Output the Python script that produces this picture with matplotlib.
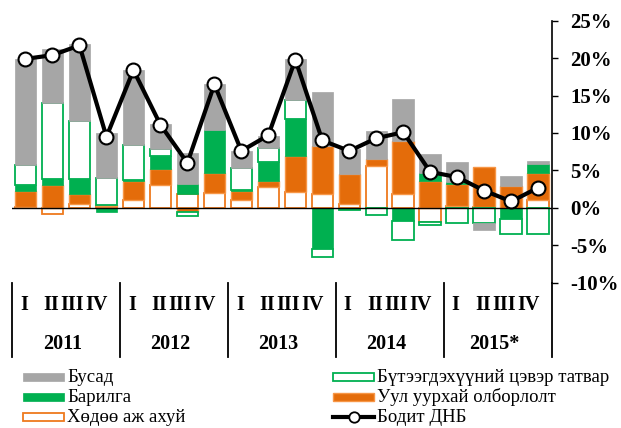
import matplotlib
matplotlib.use("Agg")
import matplotlib.pyplot as plt
from matplotlib.patches import Rectangle
from matplotlib.lines import Line2D
import matplotlib.transforms as mtransforms
import numpy as np

plt.rcParams['font.family'] = ['Liberation Serif', 'DejaVu Serif']

# ---------------- data ----------------
years = ["2011", "2012", "2013", "2014", "2015*"]
quarters = ["I", "II", "III", "IV"]

agri = [0.1, -0.8, 0.45, 0.2, 1.1, 3.0, 1.9, 2.0, 1.1, 2.8,
        2.1, 1.9, 0.55, 5.6, 1.9, -1.9, 0.3, 0.1, 0.0, 1.0]
mining = [2.1, 3.0, 1.45, 0.2, 2.45, 2.25, -0.5, 2.6, 1.15, 0.8,
          4.8, 6.3, 4.0, 0.95, 7.0, 3.6, 2.9, 5.3, 2.9, 3.7]
construction = [0.8, 0.8, 1.9, -0.6, 0.2, 1.65, 1.35, 5.85, 0.15, 2.55,
                4.95, -5.5, -0.1, 0.0, -1.7, 1.0, 0.2, 0.0, -1.45, 1.15]
taxes = [2.7, 10.2, 7.8, 3.6, 4.6, 0.9, -0.6, 0.0, 2.95, 1.9,
         2.5, -1.0, -0.2, -1.0, -2.6, -0.45, -2.0, -2.0, -2.0, -3.5]
other = [14.2, 7.2, 10.3, 6.05, 10.1, 3.4, 4.05, 6.1, 2.25, 1.6,
         5.5, 7.3, 3.3, 3.7, 5.6, 2.6, 2.7, -1.0, 1.35, 0.4]
gdp = [19.9, 20.4, 21.7, 9.5, 18.4, 11.1, 6.0, 16.5, 7.6, 9.7,
       19.8, 9.0, 7.6, 9.3, 10.1, 4.8, 4.1, 2.3, 0.85, 2.7]

yticks = [-10, -5, 0, 5, 10, 15, 20, 25]
ytick_labels = ["-10%", "-5%", "0%", "5%", "10%", "15%", "20%", "25%"]

lbl_other = "Бусад"
lbl_constr = "Барилга"
lbl_agri = "Хөдөө аж ахуй"
lbl_taxes = "Бүтээгдэхүүний цэвэр татвар"
lbl_mining = "Уул уурхай олборлолт"
lbl_gdp = "Бодит ДНБ"

# ---------------- styles ----------------
GRAY = "#A6A6A6"
GREEN = "#00B050"
ORANGE = "#E46C0A"
ORANGE_EDGE = "#F79646"
AGRI_EDGE = "#EE7A1E"

W, H = 621, 428
fig = plt.figure(figsize=(W / 100, H / 100), dpi=100)
ax_left, ax_right, ax_top, ax_bot = 12, 551.7, 20.7, 282.7
ax = fig.add_axes([ax_left / W, 1 - ax_bot / H, (ax_right - ax_left) / W, (ax_bot - ax_top) / H])

n = len(gdp)
x = np.arange(n)
width = 0.8

series = [
    (agri, dict(facecolor="white", edgecolor=AGRI_EDGE, linewidth=1.3)),
    (mining, dict(facecolor=ORANGE, edgecolor=ORANGE_EDGE, linewidth=1.0)),
    (construction, dict(facecolor=GREEN, edgecolor=GREEN, linewidth=0.5)),
    (taxes, dict(facecolor="white", edgecolor=GREEN, linewidth=1.3)),
    (other, dict(facecolor=GRAY, edgecolor=GRAY, linewidth=0.5)),
]

pos_base = np.zeros(n)
neg_base = np.zeros(n)
for vals, style in series:
    v = np.array(vals, dtype=float)
    bottoms = np.where(v >= 0, pos_base, neg_base)
    mask = v != 0
    ax.bar(x[mask], v[mask], width=width, bottom=bottoms[mask], zorder=2, **style)
    pos_base = pos_base + np.where(v > 0, v, 0)
    neg_base = neg_base + np.where(v < 0, v, 0)

ax.axhline(0, color="black", linewidth=1.0, zorder=3)
ax.plot(x, gdp, color="black", linewidth=3.0, marker="o", markersize=10,
        markerfacecolor="white", markeredgecolor="black", markeredgewidth=1.5, zorder=4)

ax.set_xlim(-0.5, n - 0.5)
ax.set_ylim(-10, 25)
for s in ["left", "top", "bottom"]:
    ax.spines[s].set_visible(False)
ax.spines["right"].set_linewidth(1.2)
ax.yaxis.tick_right()
ax.set_yticks(yticks)
ax.set_yticklabels(ytick_labels, fontsize=15, fontweight="bold", ha="left")
ax.tick_params(axis="y", direction="out", length=4.5, width=1.0, pad=9)
ax.set_xticks([])

# category axis: separators and labels below the plot
trans = mtransforms.blended_transform_factory(ax.transData, ax.transAxes)
for g in range(len(years) + 1):
    xs = g * 4 - 0.5
    ax.add_line(Line2D([xs, xs], [0, -0.285], transform=trans, color="black",
                       linewidth=1.3, clip_on=False))
q_off = [-0.06, -0.03, -0.26, -0.36]
for g, yr in enumerate(years):
    for q, ql in enumerate(quarters):
        ax.text(g * 4 + q + q_off[q], -0.086, ql, transform=trans, ha="center", va="center",
                fontsize=14.5, fontweight="bold")
    ax.text(g * 4 + 1.37, -0.233, yr, transform=trans, ha="center", va="center",
            fontsize=14.5, fontweight="bold")

# ---------------- legend (manual) ----------------
def fx(px):
    return px / W

def fy(py):
    return 1 - py / H

rows = [377, 397, 417]
ph = 8
col1_x, col2_x, pw = 23, 333, 41
entries1 = [(lbl_other, dict(facecolor=GRAY, edgecolor=GRAY, linewidth=0.5)),
            (lbl_constr, dict(facecolor=GREEN, edgecolor=GREEN, linewidth=0.5)),
            (lbl_agri, dict(facecolor="white", edgecolor=AGRI_EDGE, linewidth=1.3))]
entries2 = [(lbl_taxes, dict(facecolor="white", edgecolor=GREEN, linewidth=1.3)),
            (lbl_mining, dict(facecolor=ORANGE, edgecolor=ORANGE_EDGE, linewidth=1.0))]
for (lbl, st), ry in zip(entries1, rows):
    fig.add_artist(Rectangle((fx(col1_x), fy(ry + ph / 2)), pw / W, ph / H,
                             transform=fig.transFigure, **st))
    fig.text(fx(col1_x + pw + 3), fy(ry), lbl, ha="left", va="center", fontsize=13.5)
for (lbl, st), ry in zip(entries2, rows[:2]):
    fig.add_artist(Rectangle((fx(col2_x), fy(ry + ph / 2)), pw / W, ph / H,
                             transform=fig.transFigure, **st))
    fig.text(fx(col2_x + pw + 3), fy(ry), lbl, ha="left", va="center", fontsize=13.5)
fig.add_artist(Line2D([fx(col2_x), fx(col2_x + pw)], [fy(rows[2]), fy(rows[2])],
                      transform=fig.transFigure, color="black", linewidth=3.0, zorder=3))
fig.add_artist(Line2D([fx(col2_x + pw / 2)], [fy(rows[2])], transform=fig.transFigure,
                      color="black", marker="o", markersize=7.5, markerfacecolor="white",
                      markeredgewidth=1.3, linestyle="none", zorder=4))
fig.text(fx(col2_x + pw + 3), fy(rows[2]), lbl_gdp, ha="left", va="center", fontsize=13.5)

fig.savefig("out.png", dpi=100)
